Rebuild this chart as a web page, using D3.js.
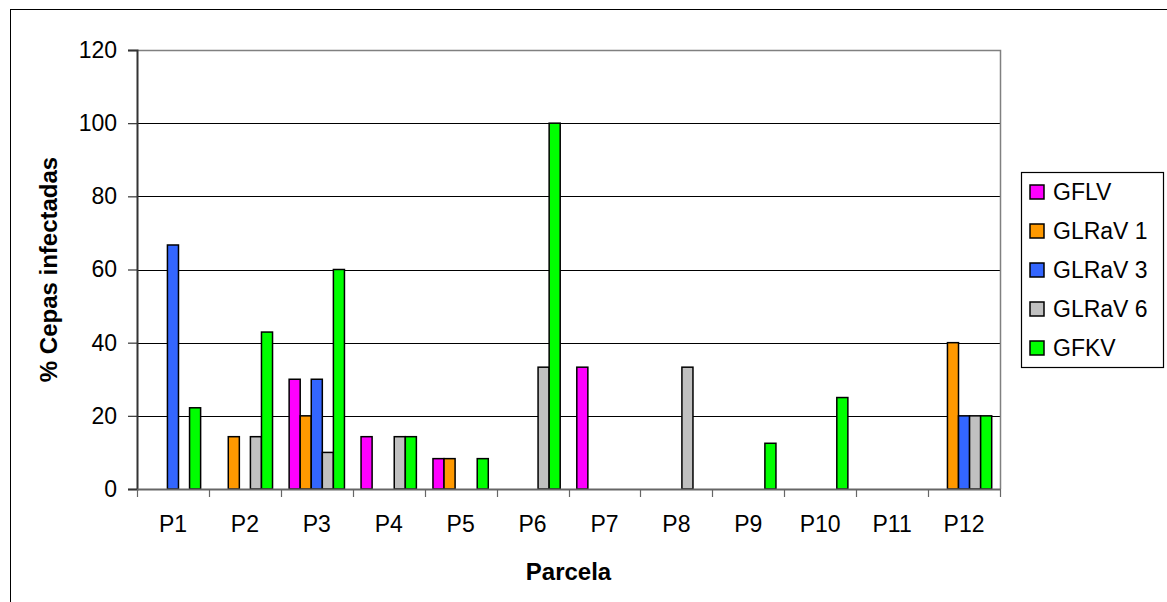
<!DOCTYPE html>
<html lang="es">
<head>
<meta charset="UTF-8">
<title>% Cepas infectadas por parcela</title>
<script src="https://d3js.org/d3.v7.min.js"></script>
<style>
  body { margin: 0; background: #fff; }
  svg { display: block; font-family: Arial, "Liberation Sans", sans-serif; }
  .tick-label { font-size: 23px; fill: #000; }
  .title { font-size: 24px; font-weight: bold; fill: #000; }
  .legend-label { font-size: 23px; fill: #000; }
</style>
</head>
<body>
<script>
  // data
  const parcelas = ['P1', 'P2', 'P3', 'P4', 'P5', 'P6', 'P7', 'P8', 'P9', 'P10', 'P11', 'P12'];
  const virus = ['GFLV', 'GLRaV 1', 'GLRaV 3', 'GLRaV 6', 'GFKV'];
  const gflv   = [0, 0, 30, 14.3, 8.3, 0, 33.3, 0, 0, 0, 0, 0];
  const glrav1 = [0, 14.3, 20, 0, 8.3, 0, 0, 0, 0, 0, 0, 40];
  const glrav3 = [66.7, 0, 30, 0, 0, 0, 0, 0, 0, 0, 0, 20];
  const glrav6 = [0, 14.3, 10, 14.3, 0, 33.3, 0, 33.3, 0, 0, 0, 20];
  const gfkv   = [22.2, 42.9, 60, 14.3, 8.3, 100, 0, 0, 12.5, 25, 0, 20];
  const yTicks = [0, 20, 40, 60, 80, 100, 120];

  const colores = ['#ff00ff', '#ff9900', '#3366ff', '#c0c0c0', '#00ff00'];
  const series = [gflv, glrav1, glrav3, glrav6, gfkv];

  const W = 1167, H = 602;
  const plot = { left: 137, top: 50, right: 1000, bottom: 489 };

  const svg = d3.select('body').append('svg')
    .attr('width', W)
    .attr('height', H);

  // outer chart border (cut off at right/bottom)
  svg.append('rect')
    .attr('x', 10.5).attr('y', 9.5)
    .attr('width', W + 20).attr('height', H + 20)
    .attr('fill', '#fff')
    .attr('stroke', '#000');

  const x = d3.scaleBand()
    .domain(parcelas)
    .range([plot.left, plot.right])
    .paddingInner(0)
    .paddingOuter(0);

  // gap width 150% -> bars take 5/6.5 of each category
  const bw = x.bandwidth() / 6.5;
  const xs = d3.scaleBand()
    .domain(virus)
    .range([0.75 * bw, 0.75 * bw + 5 * bw]);

  const y = d3.scaleLinear()
    .domain([0, 120])
    .range([plot.bottom, plot.top]);

  // gridlines
  svg.append('g')
    .selectAll('line')
    .data(yTicks.filter(d => d > 0 && d < 120))
    .join('line')
    .attr('x1', plot.left).attr('x2', plot.right)
    .attr('y1', d => Math.round(y(d)) + 0.5).attr('y2', d => Math.round(y(d)) + 0.5)
    .attr('stroke', '#000')
    .attr('stroke-width', 1);

  // plot area border top/right
  svg.append('path')
    .attr('d', `M${plot.left},${plot.top + 0.5}H${plot.right + 0.5}V${plot.bottom}`)
    .attr('fill', 'none')
    .attr('stroke', '#808080')
    .attr('stroke-width', 1.5);

  // bars
  const bars = [];
  series.forEach((vals, si) => {
    vals.forEach((v, pi) => {
      if (v > 0) bars.push({ p: parcelas[pi], s: virus[si], v: v, c: colores[si] });
    });
  });

  svg.append('g')
    .selectAll('rect')
    .data(bars)
    .join('rect')
    .attr('x', d => x(d.p) + xs(d.s))
    .attr('y', d => y(d.v))
    .attr('width', xs.bandwidth())
    .attr('height', d => y(0) - y(d.v))
    .attr('fill', d => d.c)
    .attr('stroke', '#000')
    .attr('stroke-width', 1.5);

  // y axis
  const yAxis = svg.append('g')
    .attr('transform', `translate(${plot.left},0)`)
    .call(d3.axisLeft(y).tickValues(yTicks).tickSize(9).tickPadding(11).tickFormat(d3.format('d')));
  yAxis.select('.domain').attr('stroke', '#333').attr('stroke-width', 2);
  yAxis.selectAll('.tick line').attr('stroke', '#333').attr('stroke-width', 1.2);
  yAxis.selectAll('.tick text').attr('class', 'tick-label').attr('font-size', null).attr('font-family', null);
  yAxis.attr('font-size', null).attr('font-family', null);

  // x axis
  const xAxis = svg.append('g')
    .attr('transform', `translate(0,${plot.bottom})`)
    .call(d3.axisBottom(x).tickSize(0).tickPadding(27));
  xAxis.select('.domain').attr('stroke', '#666').attr('stroke-width', 2);
  xAxis.selectAll('.tick text').attr('class', 'tick-label');
  xAxis.attr('font-size', null).attr('font-family', null);

  // category boundary ticks
  const bounds = parcelas.map(p => x(p)).concat([plot.right]);
  xAxis.append('g')
    .selectAll('line')
    .data(bounds)
    .join('line')
    .attr('x1', d => Math.round(d) + 0.5).attr('x2', d => Math.round(d) + 0.5)
    .attr('y1', 0).attr('y2', 8)
    .attr('stroke', '#666')
    .attr('stroke-width', 1.2);

  // axis titles
  svg.append('text')
    .attr('class', 'title')
    .attr('x', (plot.left + plot.right) / 2)
    .attr('y', 580)
    .attr('text-anchor', 'middle')
    .text('Parcela');

  svg.append('text')
    .attr('class', 'title')
    .attr('transform', `translate(57,${(plot.top + plot.bottom) / 2}) rotate(-90)`)
    .attr('text-anchor', 'middle')
    .text('% Cepas infectadas');

  // legend
  const lg = svg.append('g');
  lg.append('rect')
    .attr('x', 1021.5).attr('y', 172.5)
    .attr('width', 142).attr('height', 195)
    .attr('fill', '#fff')
    .attr('stroke', '#000')
    .attr('stroke-width', 1.2);

  const item = lg.selectAll('g.item')
    .data(virus)
    .join('g')
    .attr('class', 'item')
    .attr('transform', (d, i) => `translate(0,${192 + i * 39})`);

  item.append('rect')
    .attr('x', 1030).attr('y', -7)
    .attr('width', 14).attr('height', 14)
    .attr('fill', (d, i) => colores[i])
    .attr('stroke', '#000')
    .attr('stroke-width', 1.5);

  item.append('text')
    .attr('class', 'legend-label')
    .attr('x', 1053)
    .attr('y', 8)
    .text(d => d);
</script>
</body>
</html>
